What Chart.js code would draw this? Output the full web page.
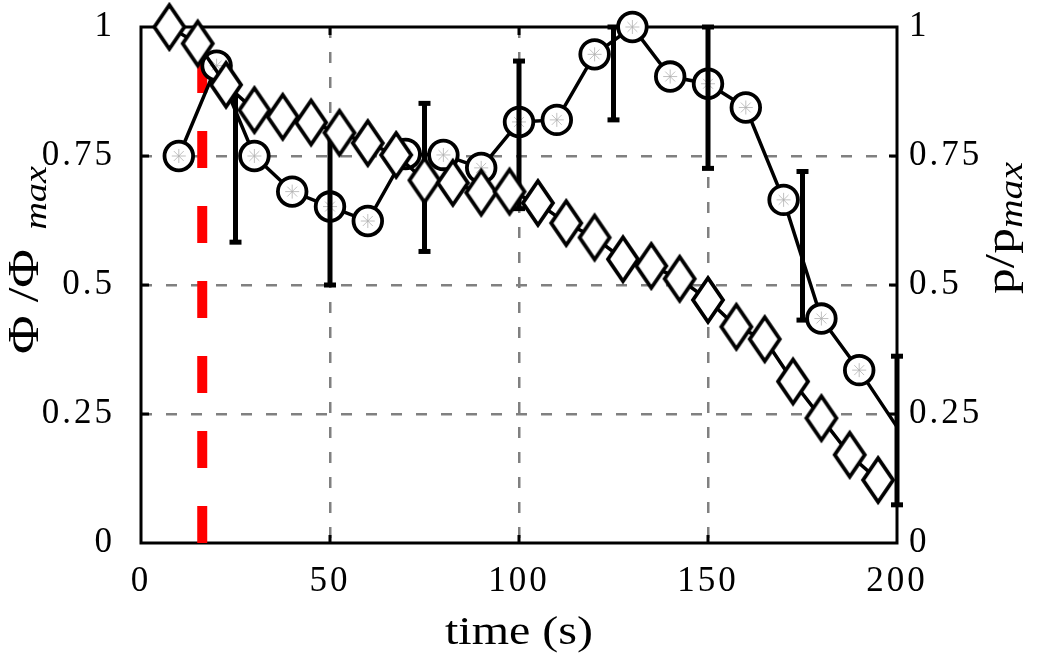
<!DOCTYPE html>
<html>
<head>
<meta charset="utf-8">
<script src="https://cdn.jsdelivr.net/npm/chart.js@4.4.1/dist/chart.umd.min.js"></script>
<style>
  html, body { margin: 0; padding: 0; background: #fff; }
  #wrap { width: 1055px; height: 655px; }
</style>
</head>
<body>
<div id="wrap"><canvas id="c" width="1055" height="655"></canvas></div>
<script>
// diamonds (Phi / Phi_max)
const diamondX = [7.5, 15, 22.5, 30, 37.5, 45, 52.5, 60, 67.5, 75, 82.5, 90, 97.5,
                  105, 112.5, 120, 127.5, 135, 142.5, 150, 157.5, 165, 172.5, 180, 187.5, 195];
const diamondY = [1.0, 0.968, 0.888, 0.839, 0.826, 0.815, 0.795, 0.775, 0.752, 0.703, 0.698, 0.679, 0.681,
                  0.659, 0.62, 0.592, 0.55, 0.537, 0.512, 0.471, 0.419, 0.395, 0.313, 0.242, 0.171, 0.122];

// circles (p / p_max)
const circleX = [10, 20, 30, 40, 50, 60, 70, 80, 90, 100, 110, 120, 130, 140, 150, 160, 170, 180, 190];
const circleY = [0.75, 0.925, 0.75, 0.681, 0.652, 0.624, 0.754, 0.752, 0.727, 0.816,
                 0.82, 0.947, 1.0, 0.904, 0.89, 0.844, 0.665, 0.435, 0.335];
const circleTail = { x: 200, y: 0.225 }; // line runs to the right axis, no marker there

// error bars
const errX = [25, 50, 75, 100, 125, 150, 175, 200];
const errLow = [0.583, 0.5, 0.565, 0.648, 0.82, 0.726, 0.432, 0.074];
const errHigh = [0.87, 0.79, 0.852, 0.934, 1.0, 1.0, 0.72, 0.362];

const markerX = 16.2; // red dashed line

const xTicks = [0, 50, 100, 150, 200];
const yTicks = [0, 0.25, 0.5, 0.75, 1];
const yLabels = ['0', '0.25', '0.5', '0.75', '1'];

const SERIF = '"Liberation Serif", "Times New Roman", serif';

function diamondImage() {
  const c = document.createElement('canvas');
  c.width = 36; c.height = 54;
  const g = c.getContext('2d');
  g.beginPath();
  g.moveTo(18, 5); g.lineTo(33, 27); g.lineTo(18, 49); g.lineTo(3, 27);
  g.closePath();
  g.fillStyle = '#fff';
  g.fill();
  g.lineWidth = 3.8;
  g.lineJoin = 'miter';
  g.strokeStyle = '#000';
  g.stroke();
  return c;
}

const circleData = circleX.map((x, i) => ({ x: x, y: circleY[i] })).concat([circleTail]);
const diamondData = diamondX.map((x, i) => ({ x: x, y: diamondY[i] }));
const errData = [];
errX.forEach((x, i) => {
  errData.push({ x: x, y: errLow[i] }, { x: x, y: errHigh[i] }, { x: x, y: null });
});

// rotated title with a subscript, stretched along the text like the LaTeX original
function sideTitle(ctx, cy, main, sub, mainSize, subSize, base, subBase, gap) {
  ctx.save();
  ctx.translate(0, cy);
  ctx.rotate(-Math.PI / 2);
  ctx.scale(1.2, 1);
  ctx.font = mainSize + 'px ' + SERIF;
  const wMain = ctx.measureText(main).width;
  ctx.font = 'italic ' + subSize + 'px ' + SERIF;
  const wSub = ctx.measureText(sub).width;
  const x0 = -(wMain + gap + wSub) / 2;
  ctx.textAlign = 'left';
  ctx.font = mainSize + 'px ' + SERIF;
  ctx.fillText(main, x0, base);
  ctx.font = 'italic ' + subSize + 'px ' + SERIF;
  ctx.fillText(sub, x0 + wMain + gap, subBase);
  ctx.restore();
}

const frame = {
  id: 'frame',
  beforeDraw(chart) {
    chart.ctx.letterSpacing = '3px';
  },
  beforeDatasetsDraw(chart) {
    const ctx = chart.ctx;
    ctx.letterSpacing = '0px';
    const a = chart.chartArea;
    const sx = chart.scales.x, sy = chart.scales.y;
    ctx.save();
    ctx.strokeStyle = '#000';
    ctx.lineWidth = 3;
    ctx.beginPath();
    xTicks.slice(1, -1).forEach(v => {
      const px = sx.getPixelForValue(v);
      ctx.moveTo(px, a.bottom); ctx.lineTo(px, a.bottom - 8);
      ctx.moveTo(px, a.top); ctx.lineTo(px, a.top + 8);
    });
    yTicks.slice(1, -1).forEach(v => {
      const py = sy.getPixelForValue(v);
      ctx.moveTo(a.left, py); ctx.lineTo(a.left + 8, py);
      ctx.moveTo(a.right, py); ctx.lineTo(a.right - 8, py);
    });
    ctx.stroke();
    ctx.strokeRect(a.left, a.top, a.right - a.left, a.bottom - a.top);
    ctx.restore();
  },
  afterDraw(chart) {
    const ctx = chart.ctx;
    ctx.save();
    ctx.fillStyle = '#000';
    ctx.textBaseline = 'alphabetic';

    ctx.save();
    ctx.translate(519, 644);
    ctx.scale(1.2, 1);
    ctx.font = '40px ' + SERIF;
    ctx.textAlign = 'center';
    ctx.fillText('time (s)', 0, 0);
    ctx.restore();

    sideTitle(ctx, 260, 'Φ /Φ', 'max', 44, 32, 38, 46, 16);
    sideTitle(ctx, 228, 'p/p', 'max', 43, 33, 1014, 1022, 0);

    ctx.restore();
  }
};

const tickFont = { family: SERIF, size: 35 };
const edgeless = c => (c.index === 0 || c.index === c.scale.ticks.length - 1) ? 'rgba(0,0,0,0)' : '#808080';
const yLabel = v => yLabels[yTicks.indexOf(v)];
const noPadV = s => { s.paddingTop = 0; s.paddingBottom = 0; };

new Chart(document.getElementById('c'), {
  type: 'scatter',
  data: {
    datasets: [
      {
        data: diamondData,
        showLine: true,
        borderColor: '#000',
        borderWidth: 3.5,
        pointStyle: diamondImage(),
        pointRadius: 15,
        clip: false,
        order: 0
      },
      {
        data: errData,
        showLine: true,
        spanGaps: false,
        borderColor: '#000',
        borderWidth: 5,
        borderCapStyle: 'butt',
        pointStyle: 'line',
        pointBorderColor: '#000',
        pointBorderWidth: 5,
        pointRadius: c => (c.dataIndex % 3 === 1 && errX[Math.floor(c.dataIndex / 3)] <= 50) ? 0 : 6,
        clip: false,
        order: 1
      },
      {
        data: circleData.slice(0, circleX.length),
        showLine: false,
        pointStyle: 'star',
        pointRadius: 7,
        pointBorderColor: '#b0b0b0',
        pointBorderWidth: 0.8,
        clip: false,
        order: 2
      },
      {
        data: circleData,
        showLine: true,
        borderColor: '#000',
        borderWidth: 3.5,
        pointStyle: 'circle',
        pointRadius: c => c.dataIndex < circleX.length ? 14.3 : 0,
        pointBackgroundColor: '#fff',
        pointBorderColor: '#000',
        pointBorderWidth: 3.8,
        clip: false,
        order: 3
      },
      {
        data: [{ x: markerX, y: 0 }, { x: markerX, y: 1 }],
        showLine: true,
        borderColor: '#ff0000',
        borderWidth: 10,
        borderDash: [37, 38],
        borderCapStyle: 'butt',
        pointRadius: 0,
        order: 4
      }
    ]
  },
  options: {
    responsive: false,
    devicePixelRatio: 1,
    animation: false,
    events: [],
    layout: { padding: { top: 27, left: 0, right: 0, bottom: 0 } },
    plugins: { legend: { display: false }, tooltip: { enabled: false } },
    scales: {
      x: {
        type: 'linear', min: 0, max: 200,
        afterBuildTicks: s => { s.ticks = xTicks.map(v => ({ value: v })); },
        afterFit: s => { s.height = 112; s.paddingLeft = 0; s.paddingRight = 0; },
        ticks: { font: tickFont, color: '#000', padding: 18, maxRotation: 0, callback: v => String(v) },
        grid: { color: edgeless, lineWidth: 2.5, drawTicks: false },
        border: { display: false, dash: [11, 14] }
      },
      y: {
        type: 'linear', min: 0, max: 1,
        afterBuildTicks: s => { s.ticks = yTicks.map(v => ({ value: v })); },
        afterFit: s => { s.width = 141; noPadV(s); },
        ticks: { font: tickFont, color: '#000', padding: 26, callback: yLabel },
        grid: { color: edgeless, lineWidth: 2.5, drawTicks: false },
        border: { display: false, dash: [11, 14] }
      },
      y2: {
        type: 'linear', position: 'right', min: 0, max: 1,
        afterBuildTicks: s => { s.ticks = yTicks.map(v => ({ value: v })); },
        afterFit: s => { s.width = 158; noPadV(s); },
        ticks: { font: tickFont, color: '#000', padding: 12, callback: yLabel },
        grid: { display: false, drawTicks: false },
        border: { display: false }
      }
    }
  },
  plugins: [frame]
});
</script>
</body>
</html>
